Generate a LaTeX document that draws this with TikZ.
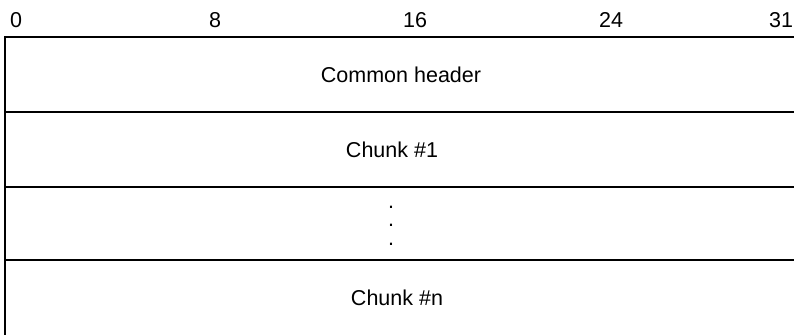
\documentclass[tikz,border=0pt]{standalone}
\usepackage{fontspec}
\setmainfont{Liberation Sans}
\begin{document}
\begin{tikzpicture}[x=1bp,y=-1bp,
  rule/.style={line width=2bp, draw=black},
  bitlabel/.style={inner sep=0pt, font=\fontsize{21.5bp}{24bp}\selectfont},
  fieldlabel/.style={inner sep=0pt, font=\fontsize{21.5bp}{24bp}\selectfont},
  ellipsisdot/.style={fieldlabel, anchor=base, text height=3bp, text depth=0pt}]
\useasboundingbox (0,0) rectangle (794,334);
% bit positions above the packet
\node[bitlabel] (b0)  at (16,20)  {0};
\node[bitlabel] (b8)  at (215,20) {8};
\node[bitlabel] (b16) at (415,20) {16};
\node[bitlabel] (b24) at (611,20) {24};
\node[bitlabel] (b31) at (781,20) {31};
% field boundaries (right and bottom edges run off the page)
\coordinate (l0) at (5.3,37.3);   \coordinate (r0) at (800,37.3);
\coordinate (l1) at (5.3,111.7);  \coordinate (r1) at (800,111.7);
\coordinate (l2) at (5.3,186.5);  \coordinate (r2) at (800,186.5);
\coordinate (l3) at (5.3,260.3);  \coordinate (r3) at (800,260.3);
\coordinate (lb) at (5.3,340);
\begin{scope}
\clip (0,0) rectangle (794,334);
\draw[rule] (l0) -- (r0);
\draw[rule] (l1) -- (r1);
\draw[rule] (l2) -- (r2);
\draw[rule] (l3) -- (r3);
\draw[rule] ([yshift=1bp]l0) -- (lb);
\end{scope}
% field names
\node[fieldlabel] (hdr) at (401,75)  {Common header};
\node[fieldlabel] (c1)  at (392,150) {Chunk \#1};
\node[ellipsisdot] (d1) at (391,208) {.};
\node[ellipsisdot] (d2) at (391,226) {.};
\node[ellipsisdot] (d3) at (391,245) {.};
\node[fieldlabel] (cn)  at (397,298) {Chunk \#n};
\end{tikzpicture}
\end{document}
